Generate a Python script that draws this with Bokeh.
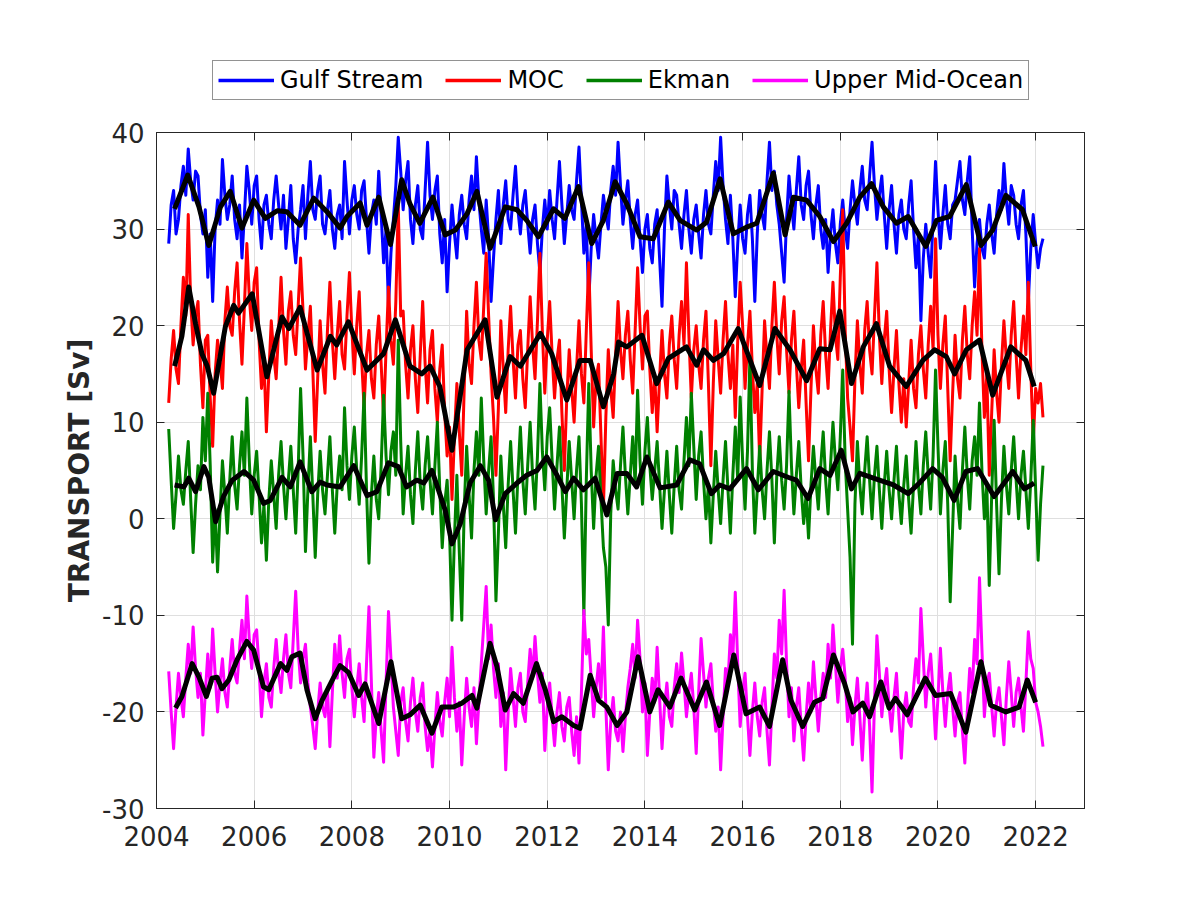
import numpy as np
from bokeh.plotting import figure
from bokeh.layouts import column
from bokeh.models import Legend, LegendItem, LinearAxis, FixedTicker, CustomJSTickFormatter, Range1d
from bokeh.embed import file_html
from bokeh.resources import INLINE

# ---------------- data ----------------
# time axis of the filtered series (every 0.05 year)
t_series = np.round(2004.25 + 0.05 * np.arange(359), 3)

gulf_stream = [
    28.5, 32.5, 34.0, 29.5, 31.0, 34.5, 36.5, 33.5, 38.3, 35.0, 33.0, 36.0, 35.5, 31.5, 29.5, 32.0,
    25.0, 29.5, 22.5, 30.0, 33.0, 30.5, 37.2, 33.5, 31.0, 32.5, 35.5, 31.0, 29.0, 32.5, 27.0, 31.5, 36.5, 34.0, 30.5, 34.5,
    35.5, 31.0, 28.0, 32.5, 33.5, 30.5, 29.0, 33.0, 35.5, 32.5, 30.0, 33.5, 28.0, 31.0, 34.5, 29.0, 26.5, 30.0, 32.0, 34.5,
    29.0, 33.5, 37.0, 32.0, 31.0, 34.0, 35.5, 30.5, 29.5, 32.0, 34.0, 30.0, 28.0, 31.5, 32.5, 29.0, 37.0, 33.0, 29.5, 33.0,
    34.5, 31.5, 30.0, 34.0, 35.0, 31.0, 27.5, 31.5, 33.0, 30.5, 36.0, 31.5, 26.5, 30.0, 22.0, 27.5, 31.0, 34.5, 39.5, 36.0,
    32.0, 35.0, 37.0, 31.0, 28.5, 32.5, 34.5, 30.0, 29.0, 34.0, 39.0, 33.5, 31.0, 34.0, 35.5, 29.5, 26.5, 31.0, 23.5, 28.5,
    32.5, 29.5, 27.0, 31.5, 33.5, 30.5, 29.0, 33.0, 35.5, 32.0, 37.5, 33.0, 30.0, 27.5, 33.0, 29.0, 22.5, 27.0, 31.0, 34.0,
    28.5, 32.5, 35.0, 31.0, 30.0, 33.5, 36.5, 32.0, 29.5, 32.5, 34.0, 30.5, 27.5, 31.0, 32.5, 28.5, 25.5, 30.0, 33.0, 30.0,
    34.0, 31.0, 29.0, 33.0, 37.0, 32.5, 28.5, 31.5, 34.5, 32.0, 31.0, 35.0, 38.5, 33.0, 27.5, 30.5, 22.5, 28.0, 31.5, 29.0,
    27.0, 30.5, 33.5, 31.5, 30.0, 34.0, 36.5, 33.5, 39.0, 34.5, 30.5, 33.0, 35.0, 31.0, 28.0, 31.5, 33.0, 29.0, 25.5, 30.0,
    31.5, 28.0, 26.5, 30.5, 32.0, 27.0, 22.0, 30.0, 35.5, 32.5, 30.0, 34.0, 33.5, 30.5, 28.0, 31.5, 34.0, 30.0, 27.5, 31.0,
    32.5, 29.5, 27.0, 31.5, 34.0, 30.5, 29.5, 33.5, 37.0, 34.0, 39.5, 34.5, 31.0, 28.5, 33.5, 29.0, 23.0, 28.5, 32.5, 29.0,
    27.5, 31.5, 33.5, 29.0, 22.5, 29.5, 34.0, 31.5, 30.0, 35.0, 39.0, 34.0, 36.0, 32.5, 30.5, 27.5, 24.5, 31.0, 35.5, 32.5,
    30.0, 34.0, 37.5, 32.5, 31.0, 34.5, 36.0, 31.5, 29.0, 32.5, 34.5, 30.0, 28.0, 31.0, 25.5, 29.5, 32.0, 28.5, 26.5, 30.5,
    33.0, 30.0, 28.0, 32.0, 35.0, 32.5, 30.5, 34.0, 36.5, 33.0, 32.0, 35.5, 39.0, 34.5, 31.0, 33.5, 35.5, 31.5, 28.0, 32.0,
    34.5, 30.5, 27.5, 31.5, 33.0, 30.0, 29.0, 32.5, 35.0, 30.0, 26.0, 29.5, 20.5, 27.0, 30.5, 27.5, 25.0, 31.0, 37.0, 32.0,
    28.0, 31.5, 34.5, 30.5, 29.0, 32.5, 33.0, 35.0, 37.0, 33.0, 31.5, 35.0, 37.5, 30.0, 24.0, 28.5, 31.0, 28.0, 27.0, 30.5,
    32.5, 29.5, 27.5, 31.5, 34.0, 32.0, 36.8, 33.0, 30.5, 34.5, 33.5, 30.5, 29.0, 32.5, 34.0, 29.5, 22.5, 28.0, 31.5, 28.5,
    26.0, 28.0, 29.0]

moc = [
    12.0, 16.5, 19.5, 15.5, 14.0, 20.0, 25.0, 21.0, 31.5, 22.5, 18.0, 21.0, 22.5, 16.0, 11.5, 18.5,
    19.0, 12.5, 7.5, 15.0, 18.5, 16.5, 13.5, 20.5, 24.0, 20.0, 19.0, 23.5, 26.5, 20.5, 16.0, 22.0, 28.5, 23.0, 19.5, 24.5,
    26.0, 18.5, 13.5, 16.5, 9.0, 15.0, 20.5, 17.0, 14.5, 19.5, 25.0, 19.5, 16.0, 21.5, 23.5, 19.0, 17.0, 22.0, 27.0, 21.5,
    15.5, 19.0, 22.0, 15.5, 8.0, 14.5, 20.5, 16.0, 13.0, 19.5, 24.5, 18.5, 14.5, 19.0, 22.5, 17.0, 15.5, 21.0, 25.5, 19.5,
    15.0, 20.0, 23.5, 16.5, 11.5, 17.0, 19.5, 14.5, 12.5, 18.0, 21.0, 16.0, 10.5, 17.5, 24.0, 18.5, 16.0, 22.5, 32.5, 21.0,
    21.5, 16.0, 12.5, 17.5, 20.0, 14.5, 11.0, 17.0, 22.5, 16.0, 12.0, 17.5, 19.5, 13.5, 10.0, 15.5, 18.0, 11.0, 6.5, 9.5,
    2.0, 8.5, 14.0, 9.0, 4.5, 13.5, 21.5, 16.0, 14.0, 20.0, 24.5, 18.5, 16.5, 22.0, 27.5, 21.0, 15.0, 10.5, 4.5, 11.5,
    20.5, 15.5, 11.0, 17.5, 22.0, 16.5, 12.5, 18.0, 19.5, 14.5, 11.5, 17.5, 23.0, 18.0, 14.5, 20.5, 27.5, 19.5, 13.0, 18.5,
    22.5, 17.0, 12.5, 16.5, 18.5, 11.0, 5.0, 12.5, 17.5, 13.5, 10.0, 15.5, 20.5, 15.0, 12.0, 19.5, 26.5, 17.5, 9.5, 14.5,
    16.0, 8.5, 1.0, 10.5, 17.5, 13.5, 10.5, 17.0, 22.5, 17.5, 14.5, 19.0, 21.5, 16.5, 13.0, 19.5, 26.0, 20.0, 15.5, 21.0,
    21.5, 15.5, 11.0, 15.0, 9.0, 14.5, 19.5, 15.0, 12.5, 18.0, 21.0, 16.5, 13.5, 19.0, 22.5, 18.0, 26.5, 19.0, 12.5, 17.5,
    20.0, 16.0, 13.5, 18.5, 21.5, 14.0, 5.5, 14.0, 20.5, 16.5, 13.0, 18.5, 22.5, 17.0, 13.5, 18.0, 10.5, 18.5, 24.5, 20.0,
    13.5, 18.0, 21.5, 15.5, 11.0, 14.0, 6.0, 13.5, 20.5, 16.5, 13.5, 20.0, 24.5, 19.0, 15.0, 20.5, 23.0, 17.5, 13.0, 18.5,
    21.5, 16.0, 11.5, 15.5, 18.5, 12.0, 6.0, 13.5, 20.0, 15.5, 13.0, 19.0, 22.5, 17.0, 13.5, 19.5, 24.5, 19.0, 16.5, 25.0,
    32.0, 19.5, 12.5, 9.5, 6.0, 14.5, 20.5, 16.0, 13.0, 19.5, 22.5, 17.5, 15.0, 21.0, 26.5, 19.0, 14.0, 18.5, 21.5, 15.5,
    11.0, 15.5, 19.5, 14.0, 10.0, 14.5, 9.5, 14.0, 18.5, 13.5, 11.5, 17.0, 20.0, 15.5, 12.5, 18.0, 22.0, 17.5, 29.0, 19.0,
    13.5, 18.0, 21.0, 13.5, 6.0, 13.0, 19.0, 14.5, 12.5, 18.5, 22.0, 17.0, 14.5, 20.0, 23.5, 19.0, 28.0, 17.5, 10.5, 15.0,
    4.5, 11.0, 17.5, 13.0, 10.0, 16.0, 20.5, 16.5, 13.5, 19.0, 22.5, 17.0, 12.5, 17.5, 21.0, 17.0, 24.5, 15.5, 8.0, 13.5,
    12.0, 14.0, 10.5]

ekman = [
    9.3, 4.0, -1.0, 2.5, 6.5, 3.0, 1.5, 5.0, 8.0, 2.0, -3.5, 1.5, 5.5, 3.0, 10.5, 6.0,
    13.0, 5.5, -4.5, 1.0, -5.5, 0.5, 6.0, 2.5, -1.5, 4.0, 8.5, 3.5, 1.0, 5.5, 9.0, 4.5, 12.5, 6.0, 0.5, 4.5,
    7.0, 2.5, -2.5, 1.5, -4.3, 2.0, 6.0, 2.5, -1.0, 4.5, 8.0, 3.5, 0.0, 4.0, 7.5, 3.0, -1.5, 5.0, 13.5, 6.5,
    -3.4, 3.0, 8.5, 2.5, -4.0, 2.5, 7.0, 3.0, 0.5, 4.5, 8.5, 3.0, -1.5, 3.5, 6.5, 3.0, 11.5, 5.5, 2.0, 6.5,
    9.5, 5.0, 1.5, 6.5, 13.0, 3.0, -4.6, 2.5, 6.5, 2.0, 0.0, 5.5, 12.8, 6.5, 2.5, 7.0, 9.0, 4.5, 18.5, 8.0,
    0.5, 4.5, 7.5, 2.5, -0.5, 5.0, 9.0, 3.5, 1.0, 5.5, 8.5, 4.0, 0.5, 5.5, 10.0, 3.0, -3.0, 1.5, 4.0, -1.5,
    -10.5, -2.0, 4.5, -3.5, -10.5, 1.0, 7.5, 2.5, -2.0, 5.0, 9.0, 4.5, 12.5, 6.0, 0.5, 5.0, 8.5, 2.0, -8.5, -1.5,
    6.5, 1.5, -3.0, 3.5, 8.0, 3.0, -1.5, 4.5, 9.5, 4.0, 0.5, 5.5, 10.0, 4.5, 1.0, 6.5, 14.0, 7.0, 3.0, 8.5,
    11.5, 6.0, 1.0, 5.5, 9.5, 3.5, -2.0, 3.0, 8.0, 4.0, 0.0, 5.0, 8.5, 1.5, -10.0, 4.0, 14.0, 5.0, -1.0, 4.5,
    7.5, 2.0, -3.0, -5.0, -11.0, 0.5, 6.0, 3.0, 1.0, 5.5, 9.5, 4.5, 0.5, 4.5, 8.5, 3.5, 13.3, 6.0, 1.5, 7.0,
    10.5, 5.5, 2.0, 5.0, 8.0, 3.5, -1.0, 3.0, 7.0, 2.5, -1.5, 3.5, 7.5, 3.0, 1.0, 6.0, 10.5, 5.5, 13.0, 7.5,
    2.0, 6.5, 9.0, 4.0, 0.0, 3.5, -2.5, 2.5, 7.0, 3.0, -0.5, 4.0, 8.0, 3.0, -1.5, 4.5, 9.5, 4.0, 12.6, 6.0,
    1.0, 7.0, 16.8, 5.0, -1.5, 3.0, 7.5, 3.0, 0.0, 5.0, 9.0, 4.0, -2.5, 4.5, 8.5, 4.0, 1.0, 5.5, 13.2, 5.5,
    0.5, 4.5, 8.0, 3.0, -0.5, 2.5, -2.0, 3.5, 7.5, 4.0, 1.0, 5.5, 9.0, 4.0, 0.5, 5.5, 10.0, 6.0, 3.0, 8.5,
    15.4, 6.0, 1.0, -4.0, -13.0, 1.5, 8.0, 3.5, 0.5, 5.0, 8.5, 4.0, 0.0, 4.5, 7.5, 3.0, -1.0, 3.5, 7.0, 3.0,
    0.0, 4.0, 7.5, 2.5, -0.5, 3.5, 6.5, 2.0, -1.5, 3.5, 8.0, 3.5, 0.5, 5.5, 9.0, 4.5, 1.0, 6.5, 15.4, 7.5,
    0.5, 5.0, 8.0, 1.5, -8.6, -1.0, 6.5, 2.0, -1.0, 5.0, 9.5, 4.5, 1.0, 6.0, 8.5, 4.5, 12.0, 5.0, 0.0, 3.5,
    -6.9, 2.5, 10.2, 1.5, -5.7, 2.0, 7.5, 3.5, 0.5, 5.0, 8.5, 4.0, 0.0, 4.5, 7.0, 3.0, -1.0, 4.0, 10.2, 3.0,
    -4.3, 1.5, 5.5]

upper_mid_ocean = [
    -15.8, -20.0, -23.8, -19.5, -16.0, -18.5, -20.5, -16.5, -13.0, -16.0, -11.2, -15.5, -18.5, -16.0, -22.4, -18.0,
    -14.0, -17.5, -11.4, -16.0, -20.0, -17.0, -14.5, -18.0, -19.5, -15.5, -12.5, -16.0, -17.0, -13.5, -10.5, -14.5, -8.0, -12.5, -15.5, -12.0,
    -11.5, -15.5, -20.5, -17.0, -15.0, -18.5, -19.5, -15.5, -12.5, -16.0, -18.0, -14.5, -12.0, -16.0, -17.5, -12.5, -7.5, -13.5, -17.0, -14.5,
    -13.0, -17.0, -19.5, -21.5, -23.8, -20.0, -17.0, -19.5, -20.5, -17.5, -23.6, -18.0, -13.0, -16.5, -12.1, -16.0, -18.5, -14.5, -13.5, -17.5,
    -20.5, -17.5, -15.0, -18.5, -21.0, -15.0, -9.1, -17.0, -24.7, -20.5, -18.0, -22.0, -25.2, -17.0, -9.6, -14.5, -19.5, -22.0, -24.5, -19.0,
    -17.5, -21.0, -23.0, -19.0, -16.5, -20.0, -22.0, -18.5, -17.0, -21.5, -24.0, -22.0, -25.7, -21.5, -18.0, -21.0, -22.5, -19.0, -16.5, -20.5,
    -13.3, -18.5, -22.0, -19.0, -25.5, -20.5, -16.5, -19.5, -21.5, -17.5, -23.3, -19.0, -15.0, -11.0, -7.0, -14.5, -11.0, -15.5, -18.5, -15.0,
    -21.5, -18.0, -26.0, -20.0, -15.5, -18.5, -21.5, -17.5, -16.0, -20.0, -21.0, -17.0, -13.5, -16.5, -12.2, -16.0, -19.0, -16.0, -24.0, -19.5,
    -17.0, -20.5, -23.5, -20.0, -18.0, -21.5, -23.0, -19.5, -18.5, -22.0, -24.5, -20.5, -25.3, -18.0, -9.5, -14.0, -12.5, -16.5, -20.5, -17.5,
    -15.0, -18.5, -11.2, -19.5, -26.0, -21.0, -18.5, -22.0, -23.0, -20.0, -24.1, -20.5, -17.5, -15.5, -13.0, -16.5, -10.5, -14.5, -20.0, -17.0,
    -24.5, -20.0, -16.5, -19.0, -13.3, -18.5, -23.8, -19.5, -17.0, -20.5, -21.5, -17.5, -15.0, -18.0, -13.9, -17.0, -20.5, -18.0, -16.0, -19.5,
    -24.3, -18.0, -12.4, -16.0, -19.5, -16.5, -15.0, -19.0, -22.0, -19.5, -26.0, -20.5, -15.5, -17.0, -12.0, -14.5, -7.6, -15.0, -21.5, -18.0,
    -16.0, -20.5, -24.5, -20.0, -17.0, -20.5, -22.5, -19.0, -17.5, -22.0, -25.5, -19.5, -14.0, -16.5, -10.5, -14.0, -7.4, -15.0, -20.5, -17.5,
    -23.0, -19.5, -17.5, -21.5, -25.0, -20.5, -17.0, -20.0, -14.8, -18.5, -22.0, -18.5, -16.0, -18.5, -13.0, -16.5, -11.0, -15.0, -19.0, -15.5,
    -13.5, -16.5, -21.0, -18.5, -23.4, -19.5, -16.5, -20.5, -25.0, -20.0, -17.0, -21.5, -28.3, -19.0, -12.1, -16.0, -20.5, -17.5, -15.5, -19.5,
    -22.0, -18.5, -16.0, -20.5, -24.8, -20.0, -18.0, -21.0, -21.5, -17.5, -14.5, -17.0, -9.3, -14.5, -19.5, -16.0, -14.0, -18.0, -22.8, -18.5,
    -13.4, -18.0, -21.5, -18.0, -16.0, -19.5, -22.5, -19.0, -18.0, -22.0, -25.3, -20.0, -15.5, -18.0, -12.5, -15.0, -6.1, -13.5, -20.5, -17.0,
    -16.0, -19.5, -22.5, -19.0, -17.5, -20.5, -23.4, -18.5, -14.8, -18.0, -21.5, -18.0, -16.5, -19.5, -22.0, -17.0, -11.7, -14.5, -15.5, -19.0,
    -20.0, -21.5, -23.6]

# low-pass (black) curves
gs_smooth_t = [2004.37, 2004.64, 2004.87, 2005.07, 2005.31, 2005.51, 2005.75, 2005.99, 2006.23, 2006.47,
    2006.67, 2006.94, 2007.22, 2007.49, 2007.76, 2007.90, 2008.17, 2008.31, 2008.55, 2008.79,
    2009.02, 2009.19, 2009.39, 2009.66, 2009.91, 2010.12, 2010.36, 2010.56, 2010.83, 2011.14,
    2011.38, 2011.58, 2011.82, 2012.13, 2012.36, 2012.64, 2012.91, 2013.15, 2013.39, 2013.63,
    2013.90, 2014.17, 2014.48, 2014.72, 2015.06, 2015.26, 2015.54, 2015.81, 2016.08, 2016.29,
    2016.63, 2016.87, 2017.04, 2017.31, 2017.58, 2017.86, 2018.13, 2018.40, 2018.64, 2018.88,
    2019.15, 2019.39, 2019.75, 2019.97, 2020.24, 2020.58, 2020.88, 2021.12, 2021.39, 2021.73, 2021.99]
gs_smooth = [32.1, 35.6, 32.3, 28.3, 32.3, 33.9, 30.1, 33.0, 31.1, 31.9,
    31.8, 30.4, 33.2, 31.8, 30.1, 31.3, 32.7, 30.4, 33.3, 28.4,
    35.1, 32.6, 30.6, 33.3, 29.4, 29.9, 31.6, 33.9, 28.0, 32.3,
    32.0, 30.9, 29.2, 32.1, 31.1, 34.4, 28.5, 30.9, 34.9, 32.6,
    29.2, 29.0, 32.8, 30.9, 29.9, 30.7, 35.2, 29.5, 30.2, 30.6,
    35.8, 29.4, 33.3, 33.0, 31.3, 28.7, 30.6, 33.3, 34.7, 32.3,
    30.6, 31.3, 28.2, 30.9, 31.3, 34.6, 28.3, 29.9, 33.5, 32.0, 28.2]

moc_smooth_t = [2004.37, 2004.52, 2004.66, 2004.80, 2004.93, 2005.04, 2005.17, 2005.41, 2005.58, 2005.68,
    2005.96, 2006.26, 2006.57, 2006.71, 2006.94, 2007.29, 2007.56, 2007.69, 2007.93, 2008.31,
    2008.65, 2008.89, 2009.19, 2009.43, 2009.60, 2009.80, 2010.05, 2010.36, 2010.73, 2010.97,
    2011.24, 2011.45, 2011.86, 2012.09, 2012.40, 2012.67, 2012.88, 2013.15, 2013.36, 2013.46,
    2013.63, 2013.94, 2014.24, 2014.48, 2014.85, 2015.06, 2015.20, 2015.40, 2015.61, 2015.91,
    2016.35, 2016.66, 2016.97, 2017.31, 2017.58, 2017.79, 2017.99, 2018.23, 2018.47, 2018.74,
    2019.01, 2019.35, 2019.69, 2019.93, 2020.17, 2020.34, 2020.58, 2020.85, 2021.12, 2021.49,
    2021.80, 2021.97]
moc_smooth = [15.8, 18.9, 24.0, 20.2, 17.1, 15.8, 13.0, 19.9, 22.1, 21.3,
    23.3, 14.7, 20.9, 19.7, 21.9, 15.4, 18.9, 18.0, 20.4, 15.4,
    17.1, 20.6, 15.8, 15.0, 15.8, 13.7, 7.1, 17.5, 20.6, 12.6,
    16.8, 15.8, 19.2, 17.1, 12.3, 16.4, 16.4, 11.6, 15.0, 18.3,
    17.8, 19.0, 14.0, 16.6, 17.8, 15.9, 17.5, 16.4, 17.1, 19.7,
    13.8, 19.7, 17.5, 14.3, 17.6, 17.5, 21.5, 14.0, 17.8, 20.2,
    15.8, 13.7, 16.4, 17.5, 16.8, 15.0, 17.5, 18.5, 12.8, 17.8,
    16.4, 13.7]

ekman_smooth_t = [2004.37, 2004.56, 2004.66, 2004.80, 2004.97, 2005.07, 2005.21, 2005.37, 2005.55, 2005.79,
    2005.99, 2006.19, 2006.33, 2006.57, 2006.74, 2006.94, 2007.18, 2007.35, 2007.49, 2007.76,
    2008.04, 2008.31, 2008.51, 2008.75, 2008.95, 2009.12, 2009.33, 2009.47, 2009.64, 2009.91,
    2010.05, 2010.22, 2010.42, 2010.63, 2010.80, 2010.94, 2011.14, 2011.38, 2011.58, 2011.79,
    2011.99, 2012.20, 2012.37, 2012.54, 2012.74, 2012.98, 2013.22, 2013.43, 2013.63, 2013.83,
    2014.04, 2014.31, 2014.65, 2014.92, 2015.12, 2015.36, 2015.53, 2015.74, 2016.08, 2016.32,
    2016.63, 2016.93, 2017.10, 2017.34, 2017.58, 2017.79, 2018.02, 2018.23, 2018.40, 2018.68,
    2019.09, 2019.39, 2019.62, 2019.89, 2020.09, 2020.33, 2020.57, 2020.81, 2021.15, 2021.53,
    2021.77, 2021.97]
ekman_smooth = [3.5, 3.3, 4.2, 2.8, 5.4, 4.3, -0.3, 2.3, 4.0, 4.9,
    4.0, 1.6, 1.9, 4.3, 3.3, 5.9, 2.8, 3.8, 3.5, 3.3,
    5.5, 2.4, 2.8, 5.8, 5.4, 3.3, 4.0, 3.7, 5.0, 0.9,
    -2.6, -0.5, 3.7, 5.5, 4.0, -0.1, 2.6, 3.7, 4.5, 5.0,
    6.4, 4.5, 2.8, 4.2, 3.0, 4.2, 0.4, 4.7, 4.7, 3.3,
    6.4, 3.2, 3.5, 6.1, 5.7, 2.6, 3.5, 3.1, 5.2, 3.0,
    4.9, 4.3, 4.0, 2.1, 5.2, 4.5, 7.1, 3.1, 4.7, 4.2,
    3.5, 2.6, 3.7, 5.2, 4.3, 1.9, 4.9, 5.2, 2.3, 4.9,
    3.1, 3.7]

umo_smooth_t = [2004.39, 2004.52, 2004.73, 2004.87, 2005.02, 2005.14, 2005.24, 2005.34, 2005.48, 2005.65,
    2005.85, 2005.99, 2006.19, 2006.30, 2006.54, 2006.67, 2006.77, 2006.94, 2007.08, 2007.25,
    2007.39, 2007.63, 2007.76, 2007.93, 2008.14, 2008.27, 2008.55, 2008.80, 2009.02, 2009.19,
    2009.40, 2009.64, 2009.84, 2010.08, 2010.25, 2010.46, 2010.56, 2010.83, 2010.97, 2011.14,
    2011.31, 2011.51, 2011.78, 2011.96, 2012.13, 2012.30, 2012.54, 2012.67, 2012.88, 2013.05,
    2013.22, 2013.43, 2013.63, 2013.86, 2014.10, 2014.27, 2014.51, 2014.74, 2015.02, 2015.26,
    2015.53, 2015.82, 2016.07, 2016.35, 2016.55, 2016.82, 2016.99, 2017.23, 2017.47, 2017.64,
    2017.86, 2018.09, 2018.26, 2018.46, 2018.60, 2018.83, 2019.00, 2019.13, 2019.37, 2019.74,
    2019.95, 2020.26, 2020.57, 2020.88, 2021.08, 2021.39, 2021.66, 2021.83, 2022.00]
umo_smooth = [-19.6, -18.4, -15.0, -16.4, -18.4, -16.5, -16.4, -17.6, -16.7, -14.6,
    -12.7, -13.6, -17.4, -17.7, -15.0, -15.7, -14.3, -13.9, -17.7, -20.7,
    -18.8, -16.4, -15.2, -15.9, -18.3, -17.1, -21.2, -14.8, -20.7, -20.3,
    -19.3, -22.2, -19.5, -19.5, -19.1, -18.3, -19.6, -12.9, -15.3, -19.8,
    -18.1, -19.1, -15.0, -17.7, -21.0, -20.5, -21.4, -21.7, -16.2, -18.8,
    -19.5, -21.4, -20.0, -14.3, -20.0, -17.7, -19.5, -16.5, -19.8, -16.9,
    -21.4, -14.1, -20.2, -19.5, -21.5, -14.6, -18.8, -21.5, -19.0, -18.6,
    -14.1, -17.1, -20.0, -19.1, -20.5, -16.9, -19.6, -18.6, -20.3, -16.5,
    -18.3, -18.1, -22.1, -14.8, -19.3, -20.0, -19.5, -16.7, -19.0]

series_names = ["Gulf Stream", "MOC", "Ekman", "Upper Mid-Ocean"]
series_colors = ["#0000ff", "#ff0000", "#008000", "#ff00ff"]
x_ticks = [2004, 2006, 2008, 2010, 2012, 2014, 2016, 2018, 2020, 2022]
y_ticks = [-30, -20, -10, 0, 10, 20, 30, 40]

AX = "#262626"

# ---------------- legend strip (top) ----------------
lf = figure(width=1192, height=120, output_backend="svg", toolbar_location=None,
            x_axis_type=None, y_axis_type=None, x_range=Range1d(0, 1), y_range=Range1d(0, 1),
            min_border=0)
lf.outline_line_color = None
lf.background_fill_color = "white"
lf.border_fill_color = "white"
lf.xgrid.visible = False
lf.ygrid.visible = False
# legend keys only (their points lie outside the visible range)
leg_renderers = [lf.line([-5, -4], [-5, -5], line_color=c, line_width=3.5) for c in series_colors]
legend = Legend(items=[LegendItem(label=n, renderers=[r]) for n, r in zip(series_names, leg_renderers)],
                orientation="horizontal", location=(56, 20))
legend.border_line_color = AX
legend.border_line_width = 1
legend.background_fill_color = "white"
legend.background_fill_alpha = 1
legend.label_text_font = "DejaVu Sans"
legend.label_text_font_size = "24px"
legend.label_text_color = "black"
legend.glyph_width = 56
legend.glyph_height = 26
legend.label_height = 26
legend.label_standoff = 6
legend.spacing = 22
legend.padding = 5
legend.margin = 0
lf.add_layout(legend, "center")

# ---------------- main plot ----------------
p = figure(frame_width=928, frame_height=676,
           x_range=Range1d(2004, 2023), y_range=Range1d(-30, 40),
           output_backend="svg", toolbar_location=None,
           min_border_left=156, min_border_right=108,
           min_border_top=12, min_border_bottom=84)
p.background_fill_color = "white"
p.border_fill_color = "white"
p.outline_line_color = AX
p.outline_line_width = 1

raw = [gulf_stream, moc, ekman, upper_mid_ocean]
for vals, col in zip(raw, series_colors):
    p.line(t_series, vals, line_color=col, line_width=3, line_join="round")

for tt, vv in [(gs_smooth_t, gs_smooth), (moc_smooth_t, moc_smooth),
               (ekman_smooth_t, ekman_smooth), (umo_smooth_t, umo_smooth)]:
    p.line(tt, vv, line_color="black", line_width=5, line_join="round")

def style_axis(ax, ticks, show_labels=True):
    ax.ticker = FixedTicker(ticks=ticks)
    ax.axis_line_color = AX
    ax.major_tick_line_color = AX
    ax.major_tick_in = 8
    ax.major_tick_out = 0
    ax.minor_tick_line_color = None
    ax.major_label_text_font = "DejaVu Sans"
    ax.major_label_text_color = AX
    if show_labels:
        ax.major_label_text_font_size = "26px"
        ax.formatter = CustomJSTickFormatter(code="return tick.toFixed(0)")
    else:
        ax.major_label_text_font_size = "1px"
        ax.major_label_standoff = 0
        ax.formatter = CustomJSTickFormatter(code="return ''")

style_axis(p.xaxis[0], x_ticks)
style_axis(p.yaxis[0], y_ticks)
p.xaxis[0].major_label_standoff = 17
p.yaxis[0].major_label_standoff = 12
p.yaxis[0].axis_label = "TRANSPORT [Sv]"
p.yaxis[0].axis_label_text_font = "DejaVu Sans"
p.yaxis[0].axis_label_text_font_style = "bold"
p.yaxis[0].axis_label_text_font_size = "28px"
p.yaxis[0].axis_label_text_color = AX
p.yaxis[0].axis_label_standoff = 3

ax_r = LinearAxis()
style_axis(ax_r, y_ticks, show_labels=False)
p.add_layout(ax_r, "right")
ax_t = LinearAxis()
style_axis(ax_t, x_ticks, show_labels=False)
p.add_layout(ax_t, "above")

p.xgrid.ticker = FixedTicker(ticks=x_ticks)
p.ygrid.ticker = FixedTicker(ticks=y_ticks)
p.xgrid.grid_line_color = "#dfdfdf"
p.ygrid.grid_line_color = "#dfdfdf"

layout = column(lf, p, spacing=0)
open("out.html", "w").write(file_html(layout, INLINE))
